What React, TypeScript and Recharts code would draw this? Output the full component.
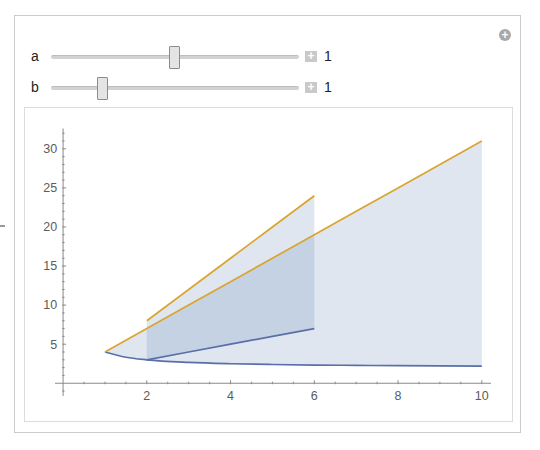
import React from "react";
import {
  Area,
  ComposedChart,
  Line,
  ReferenceLine,
  XAxis,
  YAxis,
} from "recharts";

// region 1: upper line and lower curve, x 1..10
const xA = [1, 1.5, 2, 3, 4, 5, 6, 7, 8, 9, 10];
const upperA = [4, 5.5, 7, 10, 13, 16, 19, 22, 25, 28, 31];
const lowerA = [4, 3.33, 3, 2.67, 2.5, 2.4, 2.33, 2.29, 2.25, 2.22, 2.2];

// region 2: steeper line and straight lower line, x 2..6
const xB = [2, 3, 4, 5, 6];
const upperB = [8, 12, 16, 20, 24];
const lowerB = [3, 4, 5, 6, 7];

const xLabels = [2, 4, 6, 8, 10];
const xMinor = [0.5, 1, 1.5, 2.5, 3, 3.5, 4.5, 5, 5.5, 6.5, 7, 7.5, 8.5, 9, 9.5];
const yLabels = [5, 10, 15, 20, 25, 30];
const yMinor = [
  -1, 1, 2, 3, 4, 6, 7, 8, 9, 11, 12, 13, 14, 16, 17, 18, 19, 21, 22, 23, 24,
  26, 27, 28, 29, 31, 32,
];

const X_MIN = -0.193;
const X_MAX = 10.22;
const Y_MIN = -1.63;
const Y_MAX = 32.6;

const CHART_W = 540;
const CHART_H = 450;
const MARGIN = { top: 128.5, right: 49, bottom: 53, left: 54 };
const PLOT_W = CHART_W - MARGIN.left - MARGIN.right;
const PLOT_H = CHART_H - MARGIN.top - MARGIN.bottom;
const X0_OFFSET = ((0 - X_MIN) / (X_MAX - X_MIN)) * PLOT_W;
const Y0_OFFSET = ((0 - Y_MIN) / (Y_MAX - Y_MIN)) * PLOT_H;

const BLUE = "#5a6fa8";
const GOLD = "#d8a630";
const FILL = "#5e81b5";
const AXIS = "#8a8a8a";
const LABEL = "#5c5c5c";

const allX = Array.from(new Set([...xA, ...xB])).sort((a, b) => a - b);
const rows = allX.map((x) => {
  const i = xA.indexOf(x);
  const j = xB.indexOf(x);
  return {
    x,
    upperA: i >= 0 ? upperA[i] : null,
    lowerA: i >= 0 ? lowerA[i] : null,
    rangeA: i >= 0 ? [lowerA[i], upperA[i]] : null,
    upperB: j >= 0 ? upperB[j] : null,
    lowerB: j >= 0 ? lowerB[j] : null,
    rangeB: j >= 0 ? [lowerB[j], upperB[j]] : null,
  };
});

function renderXTick(props: any) {
  const { x, payload } = props;
  const major = xLabels.includes(payload.value);
  // axis runs at y = 0, a little above the plot bottom
  const y0 = MARGIN.top + PLOT_H - Y0_OFFSET;
  return (
    <g key={`xt-${payload.value}`}>
      <line x1={x} x2={x} y1={y0} y2={y0 - (major ? 4 : 2.5)} stroke={AXIS} />
      {major && (
        <text
          x={x}
          y={y0 + 7}
          dy="0.71em"
          textAnchor="middle"
          fill={LABEL}
          fontSize={12.5}
        >
          {payload.value}
        </text>
      )}
    </g>
  );
}

function renderYTick(props: any) {
  const { y, payload } = props;
  const major = yLabels.includes(payload.value);
  const x0 = MARGIN.left + X0_OFFSET;
  return (
    <g key={`yt-${payload.value}`}>
      <line x1={x0} x2={x0 + (major ? 4 : 2.5)} y1={y} y2={y} stroke={AXIS} />
      {major && (
        <text
          x={x0 - 5}
          y={y}
          dy="0.35em"
          textAnchor="end"
          fill={LABEL}
          fontSize={12.5}
        >
          {payload.value}
        </text>
      )}
    </g>
  );
}

function Slider({ top, label, thumb }: { top: number; label: string; thumb: number }) {
  return (
    <>
      <div style={{ position: "absolute", left: 31, top: top - 9, fontSize: 14, color: "#222" }}>
        {label}
      </div>
      <div
        style={{
          position: "absolute",
          left: 51,
          top: top - 2,
          width: 248,
          height: 3,
          background: "#d2d2d2",
          borderTop: "1px solid #bdbdbd",
          borderRadius: 2,
        }}
      />
      <div
        style={{
          position: "absolute",
          left: thumb,
          top: top - 11,
          width: 9,
          height: 21,
          background: "#e4e4e4",
          border: "1px solid #8c8c8c",
          borderRadius: 1,
        }}
      />
      <div
        style={{
          position: "absolute",
          left: 305,
          top: top - 6,
          width: 12,
          height: 11,
          background: "#c9c9c9",
          color: "#fff",
          fontSize: 12,
          lineHeight: "11px",
          textAlign: "center",
          fontWeight: "bold",
        }}
      >
        +
      </div>
      <div style={{ position: "absolute", left: 324, top: top - 9, fontSize: 14, color: "#222" }}>
        1
      </div>
    </>
  );
}

export default function App() {
  return (
    <div
      style={{
        position: "absolute",
        left: 0,
        top: 0,
        width: CHART_W,
        height: CHART_H,
        background: "#fff",
        fontFamily: "'Liberation Sans', Arial, sans-serif",
      }}
    >
      <div style={{ position: "absolute", left: 0, top: 225, width: 5, height: 2, background: "#999" }} />
      <div
        style={{
          position: "absolute",
          left: 14,
          top: 15,
          width: 505,
          height: 416,
          border: "1px solid #cbcbcb",
          background: "#fff",
        }}
      />
      <div
        style={{
          position: "absolute",
          left: 24,
          top: 107,
          width: 487,
          height: 313,
          border: "1px solid #dcdcdc",
        }}
      />
      <div
        style={{
          position: "absolute",
          left: 499,
          top: 29,
          width: 12,
          height: 12,
          borderRadius: 6,
          background: "#a8a8a8",
          color: "#fff",
          fontSize: 12,
          lineHeight: "12px",
          textAlign: "center",
          fontWeight: "bold",
        }}
      >
        +
      </div>
      <Slider top={57} label="a" thumb={169} />
      <Slider top={88} label="b" thumb={97} />
      <div style={{ position: "absolute", left: 0, top: 0 }}>
        <ComposedChart
          width={CHART_W}
          height={CHART_H}
          data={rows}
          margin={MARGIN}
          style={{ overflow: "visible" }}
        >
          <XAxis
            dataKey="x"
            type="number"
            domain={[X_MIN, X_MAX]}
            allowDataOverflow
            ticks={[...xMinor, ...xLabels].sort((a, b) => a - b)}
            interval={0}
            axisLine={false}
            tickLine={false}
            height={1}
            tick={renderXTick}
          />
          <YAxis
            type="number"
            domain={[Y_MIN, Y_MAX]}
            allowDataOverflow
            ticks={[...yMinor, ...yLabels].sort((a, b) => a - b)}
            interval={0}
            axisLine={false}
            tickLine={false}
            width={1}
            tick={renderYTick}
          />
          <ReferenceLine x={0} stroke={AXIS} />
          <ReferenceLine y={0} stroke={AXIS} />
          <Area
            dataKey="rangeA"
            type="monotone"
            stroke="none"
            fill={FILL}
            fillOpacity={0.2}
            isAnimationActive={false}
          />
          <Area
            dataKey="rangeB"
            type="linear"
            stroke="none"
            fill={FILL}
            fillOpacity={0.2}
            isAnimationActive={false}
          />
          <Line dataKey="lowerA" type="monotone" stroke={BLUE} strokeWidth={1.7} dot={false} isAnimationActive={false} />
          <Line dataKey="lowerB" type="linear" stroke={BLUE} strokeWidth={1.7} dot={false} isAnimationActive={false} />
          <Line dataKey="upperA" type="linear" stroke={GOLD} strokeWidth={1.7} dot={false} isAnimationActive={false} />
          <Line dataKey="upperB" type="linear" stroke={GOLD} strokeWidth={1.7} dot={false} isAnimationActive={false} />
        </ComposedChart>
      </div>
    </div>
  );
}
